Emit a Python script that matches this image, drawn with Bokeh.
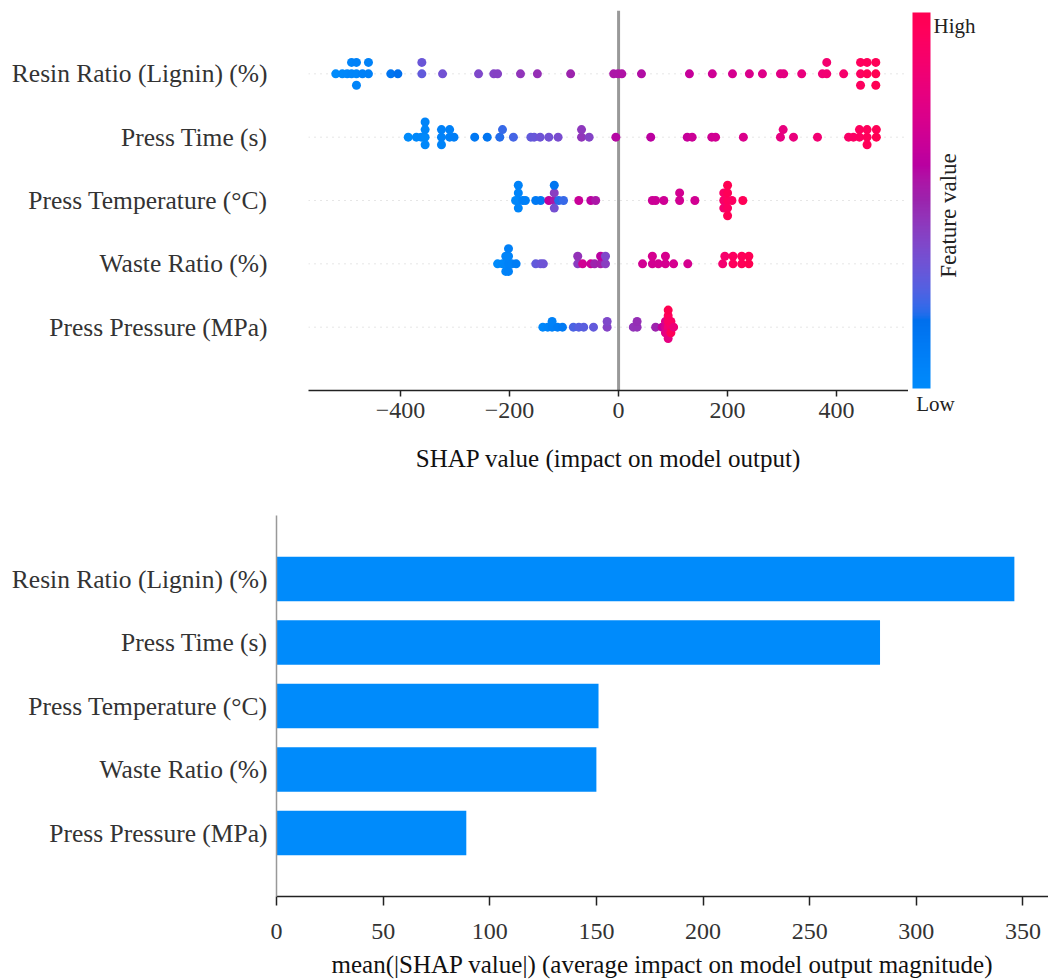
import numpy as np
from bokeh.plotting import figure
from bokeh.models import (ColumnDataSource, FixedTicker, Span, ColorBar,
                          LinearColorMapper, Label)
from bokeh.layouts import row
from bokeh.embed import file_html
from bokeh.resources import INLINE
from bokeh.transform import linear_cmap

FONT = "Liberation Serif"

# ---------------- data ----------------
features = ["Resin Ratio (Lignin) (%)", "Press Time (s)", "Press Temperature (°C)",
            "Waste Ratio (%)", "Press Pressure (MPa)"]

resin_shap = [-519, -507, -498, -490, -490, -481, -481, -481, -470, -459, -459,
              -418, -405, -361, -361, -323, -257, -229, -222, -180, -149, -88,
              -9, -1, 6, 42, 130, 172, 209, 240, 264, 297, 303, 336, 374, 382, 382, 413,
              444, 444, 444, 456, 456, 472, 472, 472]
resin_fv = [0.0, 0.02, 0.03, 0.04, 0.05, 0.04, 0.06, 0.05, 0.07, 0.08, 0.06,
            0.15, 0.18, 0.3, 0.32, 0.34, 0.38, 0.4, 0.41, 0.45, 0.47, 0.5,
            0.55, 0.55, 0.56, 0.57, 0.64, 0.67, 0.7, 0.72, 0.74, 0.76, 0.77, 0.8, 0.83, 0.85, 0.86, 0.88,
            0.93, 0.95, 0.94, 0.97, 0.96, 1.0, 0.98, 0.99]

time_shap = [-386, -371, -362, -355, -355, -355, -355, -325, -325, -325, -310, -310, -302,
             -264, -241, -218, -213, -193, -161, -155, -144, -128, -111, -68, -68, -54, -5,
             59, 126, 135, 171, 178, 229, 297, 302, 321, 365,
             422, 431, 442, 442, 456, 456, 456, 473, 473]
time_fv = [0.0, 0.02, 0.03, 0.02, 0.04, 0.03, 0.05, 0.06, 0.07, 0.05, 0.08, 0.07, 0.09,
           0.13, 0.15, 0.2, 0.22, 0.24, 0.3, 0.31, 0.33, 0.34, 0.36, 0.45, 0.44, 0.4, 0.58,
           0.6, 0.64, 0.66, 0.67, 0.68, 0.72, 0.78, 0.79, 0.8, 0.85,
           0.9, 0.92, 0.93, 0.94, 0.96, 0.95, 0.97, 1.0, 0.98]

temp_shap = [-189, -184, -184, -184, -184, -176, -171, -152, -143, -128, -118, -118, -118, -118,
             -110, -101, -73, -51, -42, 62, 68, 83, 112, 112, 140, 193, 193, 193,
             200, 200, 200, 200, 200, 208, 228]
temp_fv = [0.02, 0.03, 0.05, 0.04, 0.06, 0.07, 0.08, 0.12, 0.13, 0.62, 0.55, 0.42, 0.35, 0.15,
           0.2, 0.22, 0.65, 0.6, 0.55, 0.66, 0.66, 0.67, 0.68, 0.69, 0.68, 0.88, 0.9, 0.86,
           0.95, 0.97, 0.93, 1.0, 0.98, 0.93, 0.97]

waste_shap = [-222, -213, -207, -207, -207, -202, -202, -202, -202, -196, -188,
              -152, -143, -138, -75, -75, -66, -51, -44, -33, -33, -24, -24,
              44, 62, 62, 73, 86, 86, 101, 127, 191, 195, 210, 210, 226, 226, 239, 239]
waste_fv = [0.0, 0.02, 0.03, 0.05, 0.04, 0.06, 0.05, 0.07, 0.08, 0.06, 0.1,
            0.3, 0.32, 0.33, 0.42, 0.46, 0.68, 0.65, 0.5, 0.52, 0.6, 0.42, 0.38,
            0.68, 0.68, 0.7, 0.69, 0.7, 0.71, 0.7, 0.7, 0.86, 0.88, 0.95, 0.93, 0.97, 0.96, 1.0, 0.98]

pressure_shap = [-139, -130, -122, -122, -112, -103, -83, -73, -64, -46, -21, -21,
                 27, 34, 34, 68, 80, 86, 86, 86, 91, 91, 91, 91, 91, 91, 96, 96, 96, 101]
pressure_fv = [0.03, 0.05, 0.08, 0.06, 0.1, 0.12, 0.25, 0.27, 0.28, 0.3, 0.4, 0.38,
               0.45, 0.46, 0.47, 0.5, 0.62, 0.7, 0.72, 0.75, 0.85, 0.9, 0.8, 0.95, 0.78, 1.0,
               0.88, 0.92, 0.97, 0.82]

mean_abs_shap = [346, 283, 151, 150, 89]

rows_shap = [resin_shap, time_shap, temp_shap, waste_shap, pressure_shap]
rows_fv = [resin_fv, time_fv, temp_fv, waste_fv, pressure_fv]

x_ticks_top = [-400, -200, 0, 200, 400]
x_ticks_bottom = [0, 50, 100, 150, 200, 250, 300, 350]
XLIM_TOP = (-569, 532)
XLIM_BOTTOM = (0, 362)

# ---------------- shap red_blue colormap (LCH interpolation) ----------------
def lch_to_hex(l, c, h):
    a = c * np.cos(h)
    b = c * np.sin(h)
    fy = (l + 16.0) / 116.0
    fx = fy + a / 500.0
    fz = fy - b / 200.0

    def finv(t):
        return np.where(t ** 3 > 0.008856, t ** 3, (t - 16.0 / 116.0) / 7.787)
    X = 0.95047 * finv(fx)
    Y = 1.0 * finv(fy)
    Z = 1.08883 * finv(fz)
    r = 3.2404542 * X - 1.5371385 * Y - 0.4985314 * Z
    g = -0.9692660 * X + 1.8760108 * Y + 0.0415560 * Z
    bb = 0.0556434 * X - 0.2040259 * Y + 1.0572252 * Z
    out = []
    for v in (r, g, bb):
        v = float(v)
        v = 1.055 * (v ** (1 / 2.4)) - 0.055 if v > 0.0031308 else 12.92 * v
        out.append(int(round(min(max(v, 0.0), 1.0) * 255)))
    return "#%02x%02x%02x" % tuple(out)

nsteps = 256
l_vals = list(np.linspace(54.0, 40.0, nsteps // 2)) + list(np.linspace(40.0, 54.0, nsteps // 2))
c_vals = np.linspace(70.0, 90.0, nsteps)
h_vals = np.linspace(4.6588, 0.35470565 + 2 * np.pi, nsteps)
palette = [lch_to_hex(l, c, h) for l, c, h in zip(l_vals, c_vals, h_vals)]


def beeswarm_offsets(vals, row_height=0.4, nbins=100):
    v = np.asarray(vals, dtype=float)
    quant = np.round(nbins * (v - v.min()) / (v.max() - v.min() + 1e-8))
    inds = np.lexsort((np.arange(len(v)), quant))
    layer = 0
    last = -1
    ys = np.zeros(len(v))
    for ind in inds:
        if quant[ind] != last:
            layer = 0
        ys[ind] = np.ceil(layer / 2) * ((layer % 2) * 2 - 1)
        layer += 1
        last = quant[ind]
    ys *= 0.9 * (row_height / np.max(ys + 1))
    return ys


def style_text_axes(p):
    for ax in p.axis:
        ax.major_label_text_font = FONT
        ax.axis_label_text_font = FONT
        ax.axis_label_text_font_style = "normal"
        ax.major_label_text_color = "#333333"
        ax.axis_label_text_color = "#111111"
        ax.minor_tick_line_color = None


n = len(features)
row_pos = [n - 1 - i for i in range(n)]

# ---------------- top: beeswarm ----------------
p1 = figure(width=908, height=490, x_range=XLIM_TOP, y_range=(-1, 5),
            output_backend="svg", toolbar_location=None,
            min_border_left=308, min_border_right=0, min_border_top=10,
            min_border_bottom=100)
p1.grid.visible = False
p1.outline_line_color = None

for pos in row_pos:
    p1.add_layout(Span(location=pos, dimension="width", line_color="#cccccc",
                       line_dash="1 5", line_width=1, level="underlay"))
p1.add_layout(Span(location=0, dimension="height", line_color="#999999",
                   line_width=3, level="underlay"))

for i in range(n):
    sh = rows_shap[i]
    fv = rows_fv[i]
    assert len(sh) == len(fv)
    off = beeswarm_offsets(sh)
    src = ColumnDataSource(dict(x=sh, y=row_pos[i] + off, fv=fv))
    p1.scatter("x", "y", source=src, size=9,
               fill_color=linear_cmap("fv", palette, 0, 1), line_color=None)

xa = p1.xaxis[0]
xa.ticker = FixedTicker(ticks=x_ticks_top)
xa.major_label_overrides = {t: (("\u2212" + str(abs(t))) if t < 0 else str(t)) for t in x_ticks_top}
xa.axis_label = "SHAP value (impact on model output)"
xa.axis_line_color = "#222222"
xa.axis_line_width = 1.5
xa.major_tick_line_color = "#222222"
xa.major_tick_line_width = 1.5
xa.major_tick_out = 6
xa.major_tick_in = 0
xa.major_label_standoff = 6
xa.axis_label_standoff = 24
xa.major_label_text_font_size = "24px"
xa.axis_label_text_font_size = "25px"

ya = p1.yaxis[0]
ya.ticker = FixedTicker(ticks=list(range(n)))
ya.major_label_overrides = {row_pos[i]: features[i] for i in range(n)}
ya.axis_line_color = None
ya.major_tick_line_color = None
ya.major_tick_out = 0
ya.major_label_standoff = 41
ya.major_label_text_font_size = "25.5px"
style_text_axes(p1)

# ---------------- colour bar panel ----------------
pcb = figure(width=140, height=490, x_range=(0, 140), y_range=(0, 380),
             output_backend="svg", toolbar_location=None, y_axis_location=None,
             min_border_left=0, min_border_right=0, min_border_top=10,
             min_border_bottom=100)
pcb.grid.visible = False
pcb.outline_line_color = None
pcb.background_fill_alpha = 0
pcb.border_fill_alpha = 0

mapper = LinearColorMapper(palette=palette, low=0, high=1)
cb = ColorBar(color_mapper=mapper, width=18, height=376, location=(4, 2),
              padding=0, margin=0, ticker=FixedTicker(ticks=[]),
              major_label_text_font_size="0px", major_tick_line_color=None,
              minor_tick_line_color=None, bar_line_color=None,
              border_line_color=None, background_fill_alpha=0)
pcb.add_layout(cb)

xc = pcb.xaxis[0]
xc.ticker = FixedTicker(ticks=[27])
xc.major_label_overrides = {27: "Low"}
xc.axis_line_color = None
xc.major_tick_line_color = None
xc.major_tick_out = 0
xc.major_tick_in = 0
xc.major_label_standoff = 1
xc.major_label_text_font = FONT
xc.major_label_text_font_size = "21px"
xc.major_label_text_color = "#222222"
xc.minor_tick_line_color = None

pcb.add_layout(Label(x=25, y=365, text="High", text_font=FONT, text_font_size="21px",
                     text_align="left", text_baseline="middle", text_color="#222222"))
pcb.add_layout(Label(x=40, y=175, text="Feature value", text_font=FONT,
                     text_font_size="23px", angle=np.pi / 2, text_align="center",
                     text_baseline="middle", text_color="#222222"))

# ---------------- bottom: bar ----------------
p2 = figure(width=1048, height=490, x_range=XLIM_BOTTOM, y_range=(-1, 5),
            output_backend="svg", toolbar_location=None,
            min_border_left=276, min_border_right=0, min_border_top=25,
            min_border_bottom=80)
p2.grid.visible = False
p2.outline_line_color = None
bsrc = ColumnDataSource(dict(y=row_pos, right=mean_abs_shap))
p2.hbar(y="y", right="right", left=0, height=0.7, source=bsrc,
        fill_color="#008bfb", line_color=None)

xb = p2.xaxis[0]
xb.ticker = FixedTicker(ticks=x_ticks_bottom)
xb.axis_label = "mean(|SHAP value|) (average impact on model output magnitude)"
xb.axis_line_color = "#222222"
xb.axis_line_width = 1.5
xb.major_tick_line_color = "#222222"
xb.major_tick_line_width = 1.5
xb.major_tick_out = 9
xb.major_tick_in = 0
xb.major_label_standoff = 18
xb.axis_label_standoff = 9
xb.major_label_text_font_size = "24px"
xb.axis_label_text_font_size = "25px"

yb = p2.yaxis[0]
yb.ticker = FixedTicker(ticks=list(range(n)))
yb.major_label_overrides = {row_pos[i]: features[i] for i in range(n)}
yb.axis_line_color = "#999999"
yb.axis_line_width = 1.5
yb.major_tick_line_color = None
yb.major_tick_out = 0
yb.major_label_standoff = 9
yb.major_label_text_font_size = "25.5px"
style_text_axes(p2)

top = row(p1, pcb, spacing=0)
open("out.html", "w").write(file_html([top, p2], INLINE))
